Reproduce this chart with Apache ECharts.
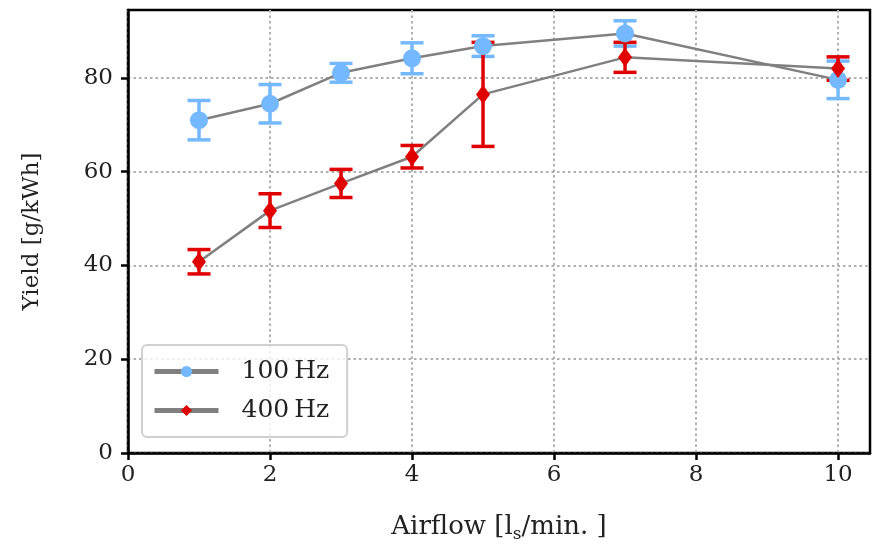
<!DOCTYPE html>
<html>
<head>
<meta charset="utf-8">
<script src="https://cdn.jsdelivr.net/npm/echarts@6/dist/echarts.min.js"></script>
<style>html,body{margin:0;padding:0;background:#fff}#c{width:876px;height:548px}</style>
</head>
<body>
<div id="c"></div>
<script>
const airflow = [1, 2, 3, 4, 5, 7, 10];
const yield100 = [71.0, 74.5, 81.1, 84.2, 86.8, 89.5, 79.6];
const err100 = [4.2, 4.1, 2.0, 3.3, 2.2, 2.7, 4.0];
const yield400 = [40.8, 51.7, 57.5, 63.2, 76.5, 84.4, 82.0];
const err400 = [2.6, 3.6, 3.0, 2.4, 11.1, 3.2, 2.5];
const xTicks = [0, 2, 4, 6, 8, 10];
const yTicks = [0, 20, 40, 60, 80];

const FONT = 'DejaVu Serif';
const BLUE = '#74b9ff';
const RED = '#e00000';
const GRAY = '#808080';
const TXT = '#222';

function errData(ys, es) {
  return airflow.map((x, i) => [x, ys[i] - es[i], ys[i] + es[i]]);
}
function errRender(color) {
  return function (params, api) {
    const x = api.value(0);
    const lo = api.coord([x, api.value(1)]);
    const hi = api.coord([x, api.value(2)]);
    const hw = 11.5;
    const style = { stroke: color, lineWidth: 3.5 };
    return {
      type: 'group',
      children: [
        { type: 'line', shape: { x1: lo[0], y1: lo[1], x2: hi[0], y2: hi[1] }, style: style },
        { type: 'line', shape: { x1: lo[0] - hw, y1: lo[1], x2: lo[0] + hw, y2: lo[1] }, style: style },
        { type: 'line', shape: { x1: hi[0] - hw, y1: hi[1], x2: hi[0] + hw, y2: hi[1] }, style: style }
      ]
    };
  };
}

const chart = echarts.init(document.getElementById('c'));
chart.setOption({
  animation: false,
  grid: { left: 128, right: 6, top: 10, bottom: 95, outerBoundsMode: 'none', containLabel: false,
    show: true, borderColor: '#000', borderWidth: 2.5, backgroundColor: 'transparent' },
  xAxis: {
    type: 'value', min: 0, max: 10.45, interval: 2,
    name: 'Airflow [l{sub|s}/min. ]', nameLocation: 'middle', nameGap: 58,
    nameTextStyle: { fontFamily: FONT, fontSize: 26, color: TXT,
      rich: { sub: { fontFamily: FONT, fontSize: 17, color: TXT, verticalAlign: 'bottom', padding: [15, 0, 0, 0] } } },
    axisLine: { show: true, lineStyle: { color: '#000', width: 2.5 } },
    axisTick: { show: true, length: 7, lineStyle: { color: '#000', width: 2.5 }, customValues: xTicks },
    axisLabel: { fontFamily: FONT, fontSize: 23, color: TXT, margin: 11, customValues: xTicks },
    splitLine: { show: true, lineStyle: { color: '#b0b0b0', width: 2, type: [2.5, 3] } }
  },
  yAxis: {
    type: 'value', min: 0, max: 94.5, interval: 20,
    name: 'Yield [g/kWh]', nameLocation: 'middle', nameGap: 84,
    nameTextStyle: { fontFamily: FONT, fontSize: 23, color: TXT },
    axisLine: { show: true, lineStyle: { color: '#000', width: 2.5 } },
    axisTick: { show: true, length: 7, lineStyle: { color: '#000', width: 2.5 }, customValues: yTicks },
    axisLabel: { fontFamily: FONT, fontSize: 23, color: TXT, margin: 15, customValues: yTicks },
    splitLine: { show: true, lineStyle: { color: '#b0b0b0', width: 2, type: [2.5, 3] } }
  },
  legend: {
    orient: 'vertical', left: 142, top: 345,
    padding: [14, 18, 14, 10],
    itemWidth: 64, itemHeight: 14, itemGap: 14,
    borderColor: '#d0d0d0', borderWidth: 2, borderRadius: 5,
    backgroundColor: 'rgba(255,255,255,0.8)',
    lineStyle: { width: 5 },
    textStyle: { fontFamily: FONT, fontSize: 25, color: TXT, padding: [0, 0, 0, 18] },
    data: ['100\u2009Hz', '400\u2009Hz']
  },
  series: [
    { type: 'custom', name: 'err100', data: errData(yield100, err100), renderItem: errRender(BLUE), z: 2, silent: true },
    { type: 'custom', name: 'err400', data: errData(yield400, err400), renderItem: errRender(RED), z: 2, silent: true },
    {
      type: 'line', name: '100\u2009Hz', data: airflow.map((x, i) => [x, yield100[i]]),
      symbol: 'circle', symbolSize: 18, showAllSymbol: true,
      lineStyle: { color: GRAY, width: 2.5 }, itemStyle: { color: BLUE }, z: 3
    },
    {
      type: 'line', name: '400\u2009Hz', data: airflow.map((x, i) => [x, yield400[i]]),
      symbol: 'diamond', symbolSize: [14, 19], showAllSymbol: true,
      lineStyle: { color: GRAY, width: 2.5 }, itemStyle: { color: RED }, z: 4
    }
  ]
});
</script>
</body>
</html>
